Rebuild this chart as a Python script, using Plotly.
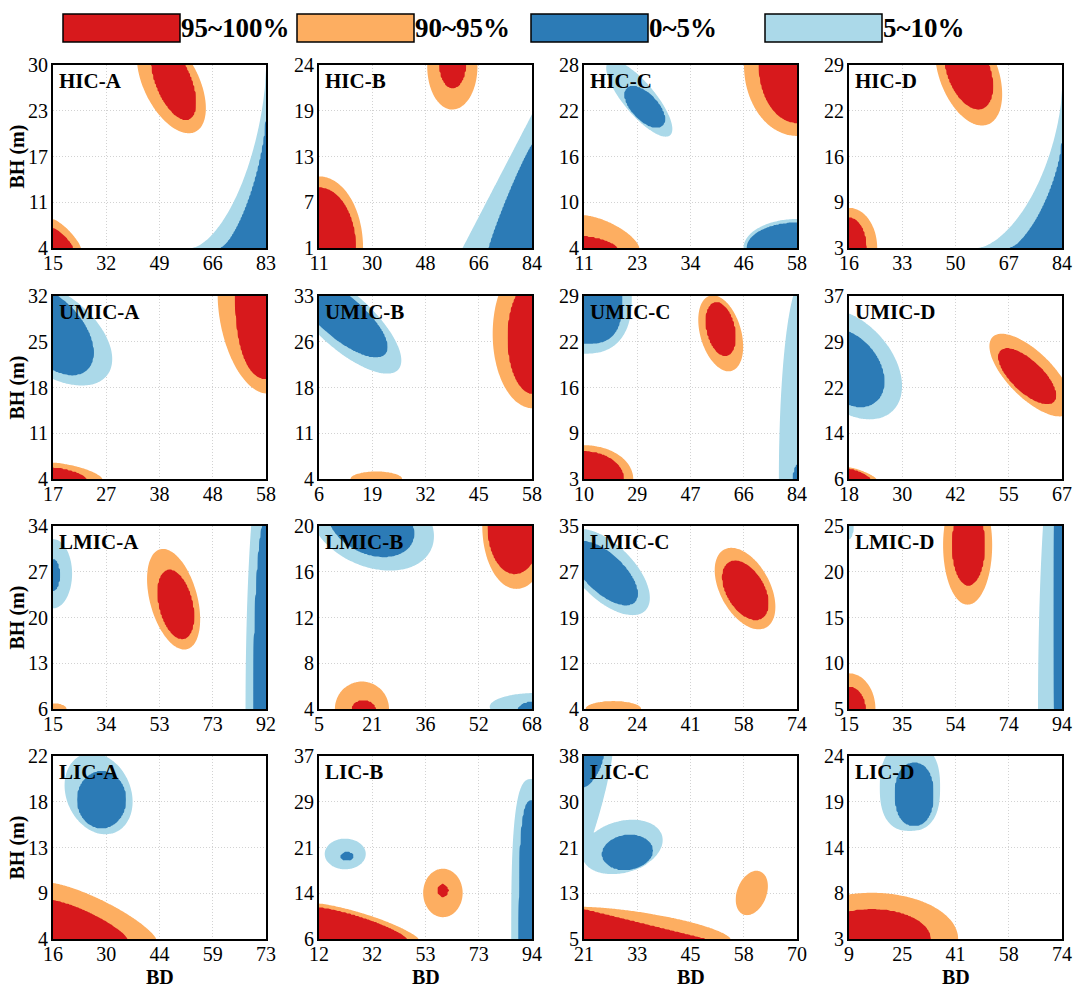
import numpy as np
import plotly.graph_objects as go

# colours of the four percentile bands
RED = '#d7191c'
ORANGE = '#fdae61'
BLUE = '#2c7bb6'
LIGHT = '#abd9e9'
CLEAR = 'rgba(255,255,255,0)'
FONT = 'Liberation Serif'

PANELS = ['HIC-A', 'HIC-B', 'HIC-C', 'HIC-D',
          'UMIC-A', 'UMIC-B', 'UMIC-C', 'UMIC-D',
          'LMIC-A', 'LMIC-B', 'LMIC-C', 'LMIC-D',
          'LIC-A', 'LIC-B', 'LIC-C', 'LIC-D']

# BD tick labels (x) and BH tick labels (y) for each panel
X_TICKS = [[15, 32, 49, 66, 83], [11, 30, 48, 66, 84], [11, 23, 34, 46, 58], [16, 33, 50, 67, 84],
           [17, 27, 38, 48, 58], [6, 19, 32, 45, 58], [10, 29, 47, 66, 84], [18, 30, 42, 55, 67],
           [15, 34, 53, 73, 92], [5, 21, 36, 52, 68], [8, 24, 41, 58, 74], [15, 35, 54, 74, 94],
           [16, 30, 44, 59, 73], [12, 32, 53, 73, 94], [21, 33, 45, 58, 70], [9, 25, 41, 58, 74]]
Y_TICKS = [[4, 11, 17, 23, 30], [1, 7, 13, 19, 24], [4, 10, 16, 22, 28], [3, 9, 16, 22, 29],
           [4, 11, 18, 25, 32], [4, 11, 18, 26, 33], [3, 9, 16, 22, 29], [6, 14, 22, 29, 37],
           [6, 13, 20, 27, 34], [4, 8, 12, 16, 20], [4, 12, 19, 27, 35], [5, 10, 15, 20, 25],
           [4, 9, 13, 18, 22], [6, 14, 21, 29, 37], [5, 13, 21, 30, 38], [3, 8, 14, 19, 24]]

# regions, in BD / BH units:
# (band, centre BD, centre BH, half-width BD, half-height BH, tilt, roundness)
# band: r = 95~100%, o = 90~95%, b = 0~5%, l = 5~10%
HIC_A = [('o', 52.8, 27.4, 11.0, 7.1, -0.5, 2), ('r', 53.5, 27.6, 7.1, 5.4, -0.55, 2),
         ('l', 83, 4, 23.6, 25.3, 0, 0.65), ('b', 83, 4, 14.5, 18.0, 0, 0.72),
         ('o', 15, 4, 8.9, 4.1, 0, 1.3), ('r', 15, 4, 6.3, 2.8, 0, 1.3)]
HIC_B = [('o', 56.7, 23.8, 8.6, 5.4, 0, 2), ('r', 56.8, 24.0, 4.4, 2.9, 0, 2),
         ('o', 11, 1, 15.1, 9.0, 0, 2), ('r', 11, 1, 12.6, 7.6, 0, 2),
         ('l', 84, 1, 23.8, 16.8, 0, 1.0), ('b', 84, 1, 14.8, 13.0, 0, 1.1)]
HIC_C = [('l', 23.2, 23.6, 7.3, 5.0, -0.8, 2), ('b', 24.4, 22.5, 4.4, 2.7, -0.6, 2),
         ('o', 58, 28, 11.7, 9.3, 0, 2), ('r', 58, 28, 8.4, 7.6, 0, 2),
         ('o', 11, 4, 12.2, 4.3, 0, 1.5), ('r', 11, 4, 7.3, 1.5, 0, 1.5),
         ('l', 58, 4, 11.8, 3.8, 0, 2), ('b', 58, 4, 11.1, 3.3, 0, 2)]
HIC_D = [('o', 54.2, 27.8, 10.7, 7.4, -0.4, 2), ('r', 54.2, 28.1, 7.7, 5.4, -0.4, 2),
         ('o', 16, 3, 9.0, 5.7, 0, 2), ('r', 16, 3, 5.5, 4.3, 0, 2),
         ('l', 84, 3, 26.8, 22.5, 0, 0.65), ('b', 84, 3, 16.6, 14.9, 0, 0.72)]
UMIC_A = [('l', 16.7, 26.4, 11.7, 8.1, -0.5, 2), ('b', 16.7, 26.7, 8.1, 6.8, -0.5, 2),
          ('o', 58, 32, 9.3, 14.9, 0, 1.8), ('r', 58, 32, 5.9, 12.7, 0, 2.2),
          ('o', 17, 4, 9.5, 2.5, 0, 1.5), ('r', 17, 4, 6.4, 1.7, 0, 1.5)]
UMIC_B = [('l', 12.1, 29.1, 14.0, 8.4, -0.75, 2), ('b', 11.7, 29.6, 11.0, 6.3, -0.75, 2),
          ('o', 58.2, 27.0, 9.8, 11.8, 0, 2), ('r', 58.2, 26.4, 6.1, 8.9, 0, 2),
          ('o', 20.0, 4, 6.3, 1.2, 0, 2)]
UMIC_C = [('l', 10, 29, 16.6, 8.2, 0, 2.5), ('b', 10, 29, 13.2, 6.8, 0, 3),
          ('o', 57.5, 23.7, 7.8, 5.4, -0.35, 2), ('r', 57.5, 24.3, 5.1, 3.8, -0.3, 2),
          ('o', 10, 3, 17.1, 4.8, 0, 2), ('r', 10, 3, 13.8, 3.9, 0, 2),
          ('l', 85.8, 3, 8.1, 28.2, 0, 2), ('b', 84.6, 3, 1.8, 2.1, 0, 2)]
UMIC_D = [('l', 17.8, 25.5, 12.4, 9.4, -0.4, 2), ('b', 17.8, 24.8, 8.3, 6.6, -0.35, 2),
          ('o', 59.8, 23.6, 9.5, 7.0, -0.7, 2), ('r', 59.0, 23.4, 6.6, 4.7, -0.7, 2),
          ('o', 18, 6, 6.3, 2.0, 0, 1.3), ('r', 18, 6, 4.9, 1.7, 0, 1.3)]
LMIC_A = [('l', 15, 26.7, 6.9, 5.3, 0, 2), ('b', 15, 26.5, 2.3, 2.4, 0, 2),
          ('o', 58.6, 22.8, 9.6, 7.7, -0.4, 2), ('r', 59.4, 22.0, 6.5, 5.3, -0.35, 2),
          ('l', 92, 6, 7.4, 40.7, 0, 2), ('b', 92, 6, 4.5, 29.5, 0, 2),
          ('o', 15, 6, 4.9, 0.9, 0, 2)]
LMIC_B = [('l', 20.4, 20.4, 18.6, 4.3, -0.3, 2), ('b', 20.4, 20.2, 12.7, 2.9, -0.3, 2),
          ('o', 63.4, 20, 10.1, 5.5, 0, 2), ('r', 62.9, 20, 8.0, 4.2, 0, 2),
          ('o', 17.7, 4, 8.0, 2.4, 0, 2), ('r', 18.2, 4, 3.4, 0.73, 0, 2),
          ('l', 69.3, 4.2, 13.8, 1.2, 0, 2), ('b', 69.3, 4, 5.3, 0.64, 0, 2)]
LMIC_C = [('l', 15.0, 27.2, 13.4, 7.3, -0.6, 2), ('b', 14.4, 27.0, 10.2, 5.4, -0.65, 2),
          ('o', 57.9, 24.4, 9.4, 6.9, -0.45, 2), ('r', 58.0, 24.1, 7.1, 5.0, -0.45, 2),
          ('o', 17.1, 4, 8.6, 1.35, 0, 2)]
LMIC_D = [('l', 15, 25, 1.8, 1.45, 0, 2),
          ('o', 59.0, 22.9, 9.1, 6.5, 0, 2), ('r', 59.3, 22.9, 6.0, 4.4, 0, 2),
          ('l', 94, 5, 8.9, 32.7, 0, 2), ('b', 94, 15, 2.8, 36, 0, 2),
          ('o', 15, 5, 9.8, 3.9, 0, 2), ('r', 15, 5, 6.0, 2.4, 0, 2)]
LIC_A = [('l', 28.2, 18.3, 9.1, 4.0, -0.2, 2), ('b', 29.0, 17.7, 6.5, 2.8, 0, 2),
         ('o', 16, 4, 27.6, 5.5, 0, 1.3), ('r', 16, 4, 19.9, 3.8, 0, 1.3)]
LIC_B = [('l', 22.1, 20.4, 7.9, 2.6, 0, 2), ('b', 22.8, 20.0, 2.35, 0.67, 0, 2),
         ('o', 59.7, 13.8, 7.6, 4.1, 0, 2), ('r', 59.7, 14.2, 1.9, 1.0, 0, 2),
         ('o', 12, 6, 38.3, 6.0, 0, 1.3), ('r', 12, 6, 33.9, 5.3, 0, 1.3),
         ('l', 94, 6, 8.0, 27.1, 0, 3), ('b', 94, 6, 5.0, 23.5, 0, 3)]
LIC_C = [('l', 21, 38, 6.5, 18.0, 0, 1.2), ('l', 29.8, 21.6, 9.3, 4.9, 0.25, 2),
         ('b', 21, 38, 4.4, 5.6, 0, 1.5), ('b', 31.0, 20.6, 5.8, 3.15, 0.1, 2),
         ('o', 59.6, 13.3, 3.7, 4.0, 0.3, 2),
         ('o', 21, 5, 33.7, 5.8, 0, 1.5), ('r', 21, 5, 27.9, 5.35, 0, 1)]
LIC_D = [('l', 27.6, 20.4, 9.2, 5.0, 0, 2.5), ('b', 28.9, 19.6, 5.8, 3.6, 0, 2.3),
         ('o', 16.0, 3, 26.3, 5.3, 0, 2), ('r', 16.0, 3, 17.9, 3.4, 0, 2)]

REGIONS = [HIC_A, HIC_B, HIC_C, HIC_D, UMIC_A, UMIC_B, UMIC_C, UMIC_D,
           LMIC_A, LMIC_B, LMIC_C, LMIC_D, LIC_A, LIC_B, LIC_C, LIC_D]

LEGEND_LABELS = ['95~100%', '90~95%', '0~5%', '5~10%']
LEGEND_COLORS = [RED, ORANGE, BLUE, LIGHT]

LEVEL = {'o': 90, 'r': 95, 'l': 90, 'b': 95}


def band_field(regions, bands, X, Y):
    # 50 = neutral; >=90 inside outer band, >=95 inside inner band
    out = np.zeros_like(X)
    for band, cx, cy, rx, ry, rho, p in regions:
        if band not in bands:
            continue
        a = (X - cx) / rx
        b = (Y - cy) / ry
        if rho:
            d = np.sqrt(np.maximum(a * a - 2 * rho * a * b + b * b, 0) / (1 - rho * rho))
        else:
            d = (np.abs(a) ** p + np.abs(b) ** p) ** (1 / p)
        lift = 80 * (1 - d)
        if LEVEL[band] == 90:
            lift = np.minimum(lift, 4.5)
        out = np.maximum(out, LEVEL[band] - 50 + lift)
    return (50 + out).astype(np.float32)


W, H = 1080, 993
COL_LEFT = [53, 319, 584, 849]
ROW_TOP = [65, 296, 526, 756]
PW, PH = 213, 183
N = 150

fig = go.Figure()
annotations = []
shapes = []

for i, name in enumerate(PANELS):
    r, c = divmod(i, 4)
    sfx = '' if i == 0 else str(i + 1)
    xt, yt = X_TICKS[i], Y_TICKS[i]
    xs = np.linspace(xt[0], xt[-1], N)
    ys = np.linspace(yt[0], yt[-1], N)
    X, Y = np.meshgrid(xs, ys)

    for bands, cols in (('or', [ORANGE, RED]), ('lb', [LIGHT, BLUE])):
        if not any(reg[0] in bands for reg in REGIONS[i]):
            continue
        fig.add_trace(go.Contour(
            x=xs, y=ys, z=band_field(REGIONS[i], bands, X, Y),
            autocontour=False,
            contours=dict(start=90, end=95, size=5, coloring='fill', showlines=False),
            colorscale=[[0, CLEAR], [0.25, CLEAR], [0.25, cols[0]], [0.75, cols[0]],
                        [0.75, cols[1]], [1, cols[1]]],
            line=dict(width=0), showscale=False, hoverinfo='skip',
            xaxis='x' + sfx, yaxis='y' + sfx))

    x0 = COL_LEFT[c] / W
    y1 = 1 - ROW_TOP[r] / H
    axis_style = dict(showline=True, linecolor='black', linewidth=2, mirror=True,
                      ticks='', showgrid=True, gridcolor='#d2d2d2', griddash='1px,2px',
                      gridwidth=1, zeroline=False, automargin=False,
                      tickfont=dict(family=FONT, size=20, color='black'))
    fig.layout['xaxis' + sfx] = dict(
        axis_style, domain=[x0, x0 + PW / W], anchor='y' + sfx,
        range=[xt[0], xt[-1]], tickvals=np.linspace(xt[0], xt[-1], 5).tolist(),
        ticktext=[str(v) for v in xt], ticklabelstandoff=-4)
    fig.layout['yaxis' + sfx] = dict(
        axis_style, domain=[y1 - PH / H, y1], anchor='x' + sfx,
        range=[yt[0], yt[-1]], tickvals=np.linspace(yt[0], yt[-1], 5).tolist(),
        ticktext=[str(v) for v in yt], ticklabelstandoff=-1)

    annotations.append(dict(
        text=name, xref='x' + sfx + ' domain', yref='y' + sfx + ' domain',
        x=0.02, y=0.99, xanchor='left', yanchor='top', showarrow=False,
        font=dict(family=FONT, size=21, color='black', weight='bold')))

    if c == 0:
        annotations.append(dict(
            text='BH (m)', xref='paper', yref='paper', x=17 / W,
            y=1 - (ROW_TOP[r] + PH / 2) / H, textangle=-90, showarrow=False,
            xanchor='center', yanchor='middle',
            font=dict(family=FONT, size=20, color='black', weight='bold')))
    if r == 3:
        annotations.append(dict(
            text='BD', xref='paper', yref='paper', x=(COL_LEFT[c] + PW / 2) / W,
            y=1 - 977 / H, showarrow=False, xanchor='center', yanchor='middle',
            font=dict(family=FONT, size=20, color='black', weight='bold')))

# legend boxes along the top
for k, (lab, col) in enumerate(zip(LEGEND_LABELS, LEGEND_COLORS)):
    bx = 63 + 234 * k
    shapes.append(dict(type='rect', xref='paper', yref='paper',
                       x0=bx / W, x1=(bx + 117) / W, y0=1 - 42 / H, y1=1 - 14 / H,
                       fillcolor=col, line=dict(color='black', width=1.5)))
    annotations.append(dict(
        text=lab, xref='paper', yref='paper', x=(bx + 116) / W, y=1 - 28 / H,
        xanchor='left', yanchor='middle', showarrow=False,
        font=dict(family=FONT, size=27, color='black', weight='bold')))

fig.update_layout(
    width=W, height=H, margin=dict(l=0, r=0, t=0, b=0),
    paper_bgcolor='white', plot_bgcolor='white', showlegend=False,
    annotations=annotations, shapes=shapes)

# drop the page's default body margin so the figure sits at the window corner
fig.write_html('out.html', config={'displayModeBar': False},
               post_script="document.body.style.margin='0';")
